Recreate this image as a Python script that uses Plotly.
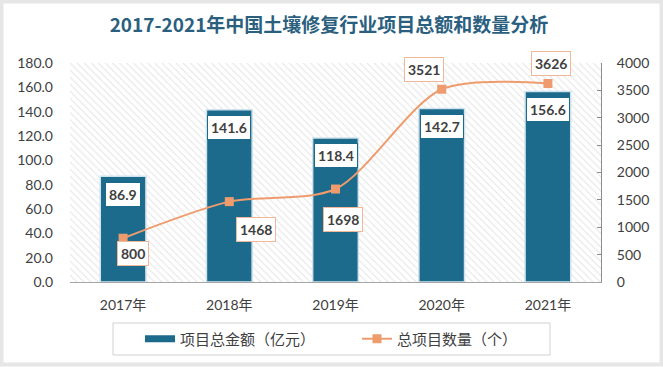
import plotly.graph_objects as go

# ---- data ----
years = ["2017年", "2018年", "2019年", "2020年", "2021年"]
amount = [86.9, 141.6, 118.4, 142.7, 156.6]          # 项目总金额（亿元）
count = [800, 1468, 1698, 3521, 3626]                # 总项目数量（个）
left_ticks = [0, 20, 40, 60, 80, 100, 120, 140, 160, 180]
right_ticks = [0, 500, 1000, 1500, 2000, 2500, 3000, 3500, 4000]
title = "2017-2021年中国土壤修复行业项目总额和数量分析"
bar_name = "项目总金额（亿元）"
line_name = "总项目数量（个）"

W, H = 663, 367
ML, MR, MT, MB = 70, 62, 63, 85
PW, PH = W - ML - MR, H - MT - MB

BAR = "#1c6a8c"
ORG = "#ee9c6e"
TXT = "#404040"
FONT = "Lato, 'Noto Sans CJK SC', sans-serif"

idx = list(range(len(years)))
xr = [-0.5, len(years) - 0.5]
y1r = [0, 180]
y2r = [0, 4000]

fig = go.Figure()

# hatched plot background (base subplot)
fig.add_trace(go.Scatter(
    x=[xr[0], xr[1], xr[1], xr[0], xr[0]],
    y=[y1r[0], y1r[0], y1r[1], y1r[1], y1r[0]],
    mode="lines", fill="toself", line=dict(width=0),
    fillcolor="rgba(255,255,255,0)",
    fillpattern=dict(shape="\\", fgcolor="#c8c8c8", bgcolor="white", size=5, solidity=0.2),
    hoverinfo="skip", showlegend=False, yaxis="y"))

fig.add_trace(go.Bar(
    x=idx, y=amount, name=bar_name, width=0.43, showlegend=False,
    marker=dict(color=BAR, line=dict(color="#cfe3ec", width=1.5)),
    yaxis="y2"))

# legend stand-in for bars (wide swatch)
fig.add_trace(go.Scatter(
    x=[None], y=[None], name=bar_name, mode="lines",
    line=dict(color=BAR, width=7), yaxis="y2"))

fig.add_trace(go.Scatter(
    x=idx, y=count, name=line_name, mode="lines+markers",
    line=dict(color=ORG, width=2, shape="spline", smoothing=0.8),
    marker=dict(symbol="square", size=9, color=ORG),
    yaxis="y3"))

# bar labels
for i, v in zip(idx, amount):
    fig.add_annotation(x=i, y=v, yref="y2", text=f"<b>{v:.1f}</b>", showarrow=False,
                       yshift=-18, bgcolor="white", bordercolor=BAR, borderwidth=1,
                       borderpad=3, font=dict(size=14, color=TXT, family=FONT))

# line labels offsets
offs = [(10, -15), (27, -28), (7, -30), (-18, 20), (3, 20)]
for i, v, (dx, dy) in zip(idx, count, offs):
    fig.add_annotation(x=i, y=v, yref="y3", text=f"<b>{v}</b>", showarrow=False,
                       xshift=dx, yshift=dy, bgcolor="white", bordercolor="#f0b898",
                       borderwidth=1, borderpad=3, font=dict(size=14, color=TXT, family=FONT))

def px2x(p):
    return (p - ML) / PW

def px2y(p):
    return (H - MB - p) / PH

# legend box and outer frame
fig.add_shape(type="rect", xref="paper", yref="paper",
              x0=px2x(113), x1=px2x(550), y0=px2y(355), y1=px2y(323),
              line=dict(color="#d0d0d0", width=1), fillcolor="white", layer="below")
fig.add_shape(type="rect", xref="paper", yref="paper",
              x0=px2x(1.5), x1=px2x(W - 1.5), y0=px2y(H - 2.5), y1=px2y(1.5),
              line=dict(color="#e6e6e6", width=4))

fig.update_layout(
    width=W, height=H,
    margin=dict(l=ML, r=MR, t=MT, b=MB, autoexpand=False),
    paper_bgcolor="white", plot_bgcolor="white",
    font=dict(family=FONT, color=TXT, size=13),
    title=dict(text=f"<b>{title}</b>", x=329 / W, xref="container", xanchor="center",
               y=1 - 25 / H, yanchor="middle",
               font=dict(size=19, color="#2b5f7f", family="'Noto Sans CJK SC', sans-serif")),
    xaxis=dict(range=xr, tickmode="array", tickvals=idx, ticktext=years,
               showline=True, linecolor="#a6a6a6", linewidth=1, showgrid=False, zeroline=False,
               ticks="", ticklabelstandoff=10, tickfont=dict(size=14, color=TXT)),
    yaxis=dict(range=y1r, tickmode="array", tickvals=left_ticks,
               ticktext=[f"{t:.1f}" for t in left_ticks], showgrid=False, zeroline=False,
               showline=False, ticks="", ticklabelstandoff=16,
               tickfont=dict(size=14, color=TXT)),
    yaxis2=dict(range=y1r, overlaying="y", side="left", visible=False, showgrid=False,
                zeroline=False),
    yaxis3=dict(range=y2r, overlaying="y", side="right", tickmode="array", tickvals=right_ticks,
                showgrid=False, zeroline=False, showline=True, linecolor="#8c8c8c",
                ticks="inside", ticklen=4, tickcolor="#8c8c8c", ticklabelstandoff=12,
                tickfont=dict(size=14, color=TXT)),
    legend=dict(orientation="h", x=px2x(140), xanchor="left", y=px2y(339), yanchor="middle",
                bgcolor="rgba(0,0,0,0)", font=dict(size=15, color=TXT), entrywidth=172,
                itemwidth=30, traceorder="normal"),
)

fig.write_html("out.html", config={"displayModeBar": False},
               post_script="document.body.style.margin='0';document.body.style.overflow='hidden';")
